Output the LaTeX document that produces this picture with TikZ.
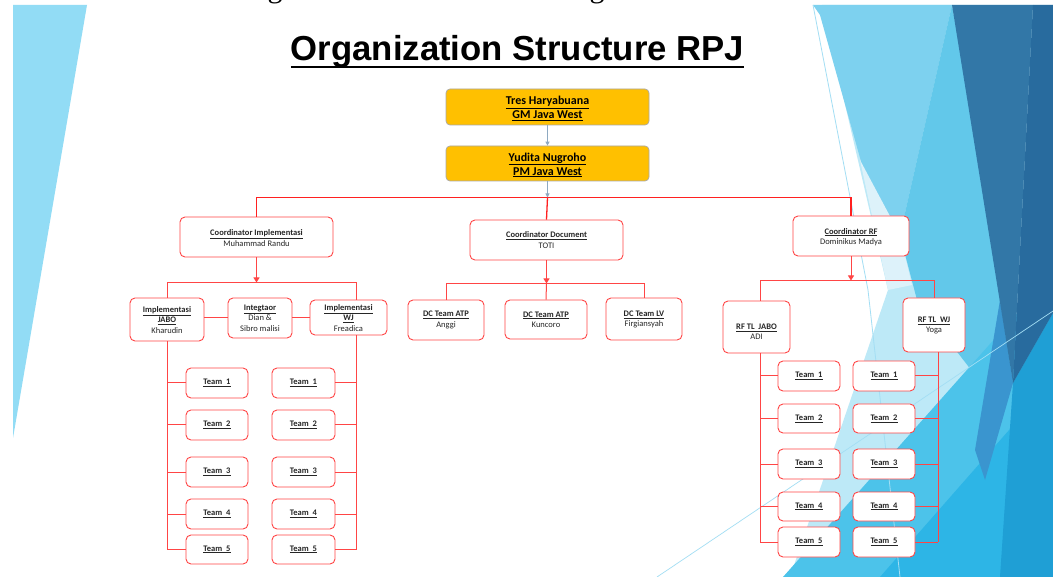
\documentclass[tikz,border=0pt]{standalone}
\usepackage{fontspec}
\setmainfont{Carlito}
\newfontfamily\headfont{Liberation Sans}
\newfontfamily\serifpart{Liberation Serif}
\usetikzlibrary{arrows.meta}

\definecolor{orgred}{HTML}{FF4545}
\definecolor{busred}{HTML}{FF2020}
\definecolor{gold}{HTML}{FFC000}
\definecolor{goldedge}{HTML}{A9A9A9}
\definecolor{steel}{HTML}{8EA9C1}
\definecolor{ink}{HTML}{262626}
% slide decoration colours
\definecolor{stripblue}{HTML}{92DCF5}
\definecolor{facetA}{HTML}{7DD1EF}
\definecolor{facetB}{HTML}{62C8EA}
\definecolor{facetPale}{HTML}{DDF2FA}
\definecolor{facetLC}{HTML}{BDE9F7}
\definecolor{facetM1}{HTML}{4CC3EA}
\definecolor{facetM2}{HTML}{2DB5E6}
\definecolor{facetM3}{HTML}{1F9FD5}
\definecolor{facetD1}{HTML}{3277A7}
\definecolor{facetD2}{HTML}{286B9E}
\definecolor{facetD3}{HTML}{3A95CF}
\definecolor{facetLine}{HTML}{A3DEF4}

\tikzset{
  orgbox/.style={draw=orgred, line width=0.9pt, rounded corners=5pt, fill=white, inner sep=0pt},
  goldbox/.style={draw=goldedge, line width=0.7pt, rounded corners=4pt, fill=gold, inner sep=0pt},
  boxtext/.style={align=center, inner sep=0pt, text=ink, font=\fontsize{8.5}{10.3}\selectfont},
  goldtext/.style={align=center, inner sep=0pt, text=black, font=\bfseries\fontsize{12}{14}\selectfont},
  wire/.style={draw=orgred, line width=1pt},
  buswire/.style={draw=busred, line width=1.3pt},
  redarrow/.style={wire, -{Triangle[width=6pt,length=5pt]}},
  greyarrow/.style={draw=steel, line width=0.8pt, -{Triangle[width=4pt,length=4pt]}},
  fragment/.style={font=\serifpart\fontsize{30}{30}\selectfont, anchor=base, inner sep=0pt},
}

\newcommand\hd[1]{\textbf{\underline{#1}}}
% name, centre x, centre y, width, height, text centre y, text
\newcommand\orgunit[7]{%
  \node[orgbox, minimum width=#4pt, minimum height=#5pt] (#1) at (#2,#3) {};
  \node[boxtext] (#1-t) at (#2,#6) {#7};}

\begin{document}
\begin{tikzpicture}[x=1pt,y=-1pt]
\useasboundingbox (0,0) rectangle (1053,577);
\fill[white] (0,0) rectangle (1053,577);

% ---- slide decoration ----
\fill[stripblue] (13,5) -- (87,5) -- (13,438) -- cycle;
\fill[facetLC] (822,5) -- (1053,5) -- (1053,577) -- (790,577) -- (888,290) -- cycle;
\fill[facetA] (813,5) -- (952,5) -- (900,235) -- (862,165) -- (820,15) -- cycle;
\fill[facetPale] (860,160) -- (900,235) -- (912,285) -- (888,290) -- cycle;
\fill[facetB] (952,5) -- (1013,347) -- (975,375) -- (917,300) -- (900,235) -- cycle;
\fill[facetM1] (783,577) -- (1053,273) -- (1053,577) -- cycle;
\fill[facetM2] (880,577) -- (1053,380) -- (1053,577) -- cycle;
\fill[facetM3] (1013,383) -- (1053,313) -- (1053,577) -- (1000,577) -- cycle;
\fill[facetD3] (1000,300) -- (1013,383) -- (985,480) -- (975,450) -- cycle;
\fill[facetD1] (952,5) -- (1033,5) -- (1013,383) -- cycle;
\fill[facetD2] (1033,5) -- (1053,5) -- (1053,313) -- (1013,383) -- cycle;
\draw[facetLine, line width=0.8pt] (813,5) -- (868,290) -- (900,577);
\draw[facetLine, line width=0.7pt] (657,577) -- (1053,311);

% remnants of the line above the slide
\node[fragment] (frag1) at (275,-2) {g};
\node[fragment] (frag2) at (597,-2) {g};

% ---- title ----
\node[font=\headfont\bfseries\fontsize{34.7}{40}\selectfont, anchor=base, inner sep=0pt] (title) at (517.5,61) {Organization Structure RPJ};
\draw[line width=2.4pt] ([yshift=-6pt]title.base west) -- ([yshift=-6pt]title.base east);

% ---- management ----
\node[goldbox, minimum width=203pt, minimum height=36pt] (gm) at (547.5,107) {};
\node[goldtext] (gm-t) at (547.5,108.5) {\underline{Tres Haryabuana}\\\underline{GM Java West}};
\node[goldbox, minimum width=203pt, minimum height=35pt] (pm) at (547.5,163.5) {};
\node[goldtext] (pm-t) at (547.5,165) {\underline{Yudita Nugroho}\\\underline{PM Java West}};

% ---- coordinators ----
\orgunit{ci}{256.5}{237}{153}{40}{238}{\hd{Coordinator Implementasi}\\Muhammad Randu}
\orgunit{cd}{546.5}{240}{153}{40}{240}{\hd{Coordinator Document}\\TOTI}
\orgunit{crf}{851}{236}{116}{40}{237}{\hd{Coordinator RF}\\Dominikus Madya}

% ---- implementation branch ----
\orgunit{ijabo}{167}{319.5}{74}{43}{320}{\hd{Implementasi}\\\hd{JABO}\\Kharudin}
\orgunit{integ}{260}{318}{64}{40}{318}{\hd{Integtaor}\\Dian \&\\Sibro malisi}
\orgunit{iwj}{348.5}{317.5}{77}{35}{318}{\hd{Implementasi}\\\hd{WJ}\\Freadica}

\orgunit{lt1}{217}{383}{62}{30}{383}{\hd{Team~~1}}
\orgunit{lt2}{217}{425}{62}{30}{425}{\hd{Team~~2}}
\orgunit{lt3}{217}{472}{62}{30}{472}{\hd{Team~~3}}
\orgunit{lt4}{217}{514}{62}{30}{514}{\hd{Team~~4}}
\orgunit{lt5}{217}{549.5}{62}{29}{549.5}{\hd{Team~~5}}
\orgunit{rt1}{303.5}{383}{63}{30}{383}{\hd{Team~~1}}
\orgunit{rt2}{303.5}{425}{63}{30}{425}{\hd{Team~~2}}
\orgunit{rt3}{303.5}{472}{63}{30}{472}{\hd{Team~~3}}
\orgunit{rt4}{303.5}{514}{63}{30}{514}{\hd{Team~~4}}
\orgunit{rt5}{303.5}{549.5}{63}{29}{549.5}{\hd{Team~~5}}

% ---- document branch ----
\orgunit{dc1}{446}{320}{76}{40}{320}{\hd{DC Team ATP}\\Anggi}
\orgunit{dc2}{546}{319.5}{82}{39}{319.5}{\hd{DC Team ATP}\\Kuncoro}
\orgunit{dc3}{644}{319}{76}{42}{319.5}{\hd{DC Team LV}\\Firgiansyah}

% ---- RF branch ----
\orgunit{rfj}{756.5}{327}{67}{52}{332}{\hd{RF TL~~JABO}\\ADI}
\orgunit{rfw}{934}{325}{62}{54}{325.5}{\hd{RF TL~~WJ}\\Yoga}

\orgunit{at1}{809}{376}{62}{30}{376}{\hd{Team~~1}}
\orgunit{at2}{809}{418.5}{62}{29}{418.5}{\hd{Team~~2}}
\orgunit{at3}{809}{464}{62}{30}{464}{\hd{Team~~3}}
\orgunit{at4}{809}{506.5}{62}{29}{506.5}{\hd{Team~~4}}
\orgunit{at5}{809}{542}{62}{30}{542}{\hd{Team~~5}}
\orgunit{bt1}{884}{376}{62}{30}{376}{\hd{Team~~1}}
\orgunit{bt2}{884}{418.5}{62}{29}{418.5}{\hd{Team~~2}}
\orgunit{bt3}{884}{464}{62}{30}{464}{\hd{Team~~3}}
\orgunit{bt4}{884}{506.5}{62}{29}{506.5}{\hd{Team~~4}}
\orgunit{bt5}{884}{542}{62}{30}{542}{\hd{Team~~5}}

% ---- connectors ----
\coordinate (topL) at (256.5,197.5);
\coordinate (topM) at (547.5,197.5);
\coordinate (topR) at (851,197.5);
\draw[greyarrow] (gm) -- (pm);

% implementation
\coordinate (ciBus) at (256.5,282.5);
\coordinate (ciL) at (167,282.5);
\coordinate (ciR) at (356,282.5);
\draw[wire] (ijabo.north) -- (ciL) -- (ciR) -- (ciR |- iwj.north);
\draw[redarrow] (ci) -- (ciBus);
\draw[wire] (integ.west) -- (integ.west -| ijabo.east);
\draw[wire] (integ.east) -- (integ.east -| iwj.west);
\draw[wire] (ijabo.south) -- (ijabo.south |- lt5.west);
\foreach \t in {lt1,lt2,lt3,lt4,lt5}
  \draw[wire] (\t.west -| ijabo.south) -- (\t.west);
\coordinate (wjCol) at (356,335);
\draw[wire] (wjCol) -- (wjCol |- rt5.east);
\foreach \t in {rt1,rt2,rt3,rt4,rt5}
  \draw[wire] (\t.east) -- (\t.east -| wjCol);

% document
\coordinate (cdBus) at (546.5,283.5);
\coordinate (cdL) at (446,283.5);
\coordinate (cdR) at (644,283.5);
\draw[wire] (dc1.north) -- (cdL) -- (cdR) -- (dc3.north);
\draw[wire] (cdBus) -- (dc2.north);
\draw[redarrow] (cd) -- (cdBus);

% RF
\coordinate (rfBus) at (851,280.5);
\coordinate (rfL) at (760,280.5);
\coordinate (rfR) at (934,280.5);
\draw[wire] (rfL |- rfj.north) -- (rfL) -- (rfR) -- (rfw.north);
\draw[redarrow] (crf) -- (rfBus);
\coordinate (rfjCol) at (760,353);
\draw[wire] (rfjCol) -- (rfjCol |- at5.west);
\foreach \t in {at1,at2,at3,at4,at5}
  \draw[wire] (\t.west -| rfjCol) -- (\t.west);
\coordinate (rfwCol) at (938,352);
\draw[wire] (rfwCol) -- (rfwCol |- bt5.east);
\foreach \t in {bt1,bt2,bt3,bt4,bt5}
  \draw[wire] (\t.east) -- (\t.east -| rfwCol);

% top bus joining the three coordinators
\draw[buswire] (topL) -- (topR);
\draw[buswire] (topL) -- (ci.north);
\draw[buswire] (topR) -- (crf.north);
\draw[buswire] (topM) -- (cd.north);
\draw[greyarrow] (pm) -- (topM);
\end{tikzpicture}
\end{document}
